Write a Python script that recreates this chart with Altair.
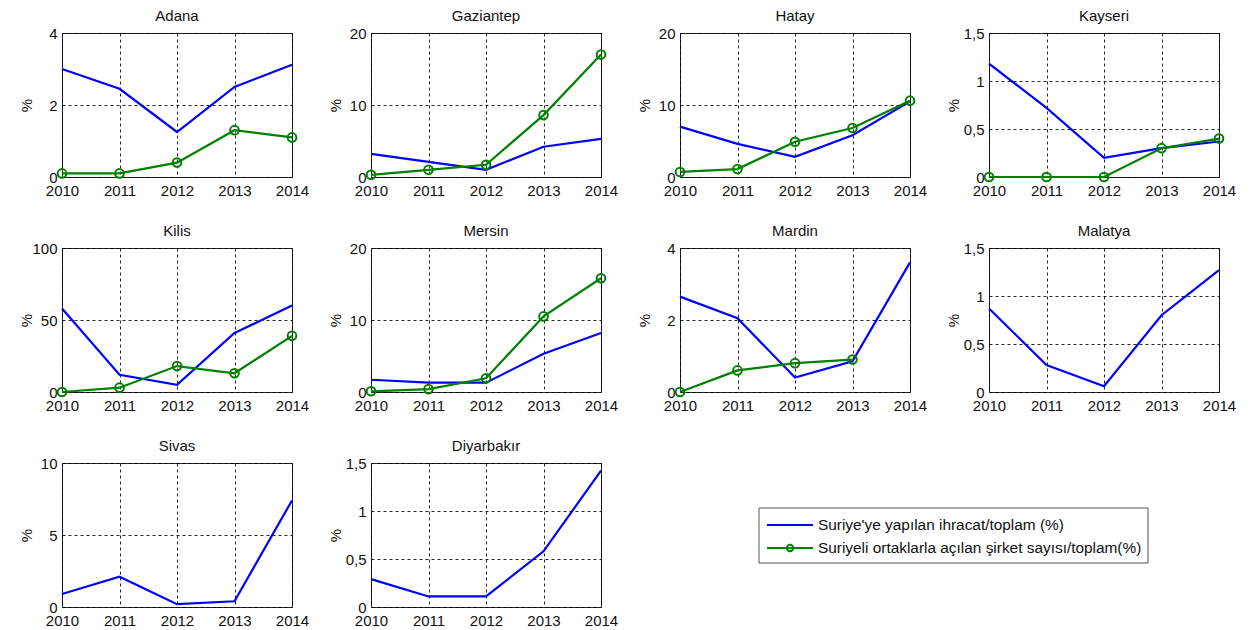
import altair as alt
import pandas as pd

years = [2010, 2011, 2012, 2013, 2014]
S1 = "Suriye'ye yapılan ihracat/toplam (%)"
S2 = "Suriyeli ortaklarla açılan şirket sayısı/toplam(%)"

cities = ["Adana", "Gaziantep", "Hatay", "Kayseri", "Kilis", "Mersin",
          "Mardin", "Malatya", "Sivas", "Diyarbakır"]

adana_export = [3.0, 2.45, 1.25, 2.5, 3.12]
adana_firms = [0.1, 0.1, 0.4, 1.3, 1.1]
gaziantep_export = [3.2, 2.1, 1.0, 4.2, 5.3]
gaziantep_firms = [0.3, 1.0, 1.7, 8.6, 17.0]
hatay_export = [7.0, 4.6, 2.8, 5.8, 10.5]
hatay_firms = [0.7, 1.1, 4.9, 6.8, 10.6]
kayseri_export = [1.18, 0.72, 0.2, 0.3, 0.37]
kayseri_firms = [0.0, 0.0, 0.0, 0.3, 0.4]
kilis_export = [58, 12, 5, 41, 60]
kilis_firms = [0, 3, 18, 13, 39]
mersin_export = [1.7, 1.3, 1.3, 5.3, 8.2]
mersin_firms = [0.1, 0.4, 1.9, 10.5, 15.8]
mardin_export = [2.65, 2.05, 0.4, 0.85, 3.6]
mardin_firms = [0.0, 0.6, 0.8, 0.9, None]
malatya_export = [0.87, 0.28, 0.06, 0.8, 1.27]
sivas_export = [0.9, 2.1, 0.2, 0.4, 7.4]
diyarbakir_export = [0.29, 0.11, 0.11, 0.58, 1.42]

y_max = [4, 20, 20, 1.5, 100, 20, 4, 1.5, 10, 1.5]
y_ticks = [[0, 2, 4], [0, 10, 20], [0, 10, 20], [0, 0.5, 1, 1.5], [0, 50, 100],
           [0, 10, 20], [0, 2, 4], [0, 0.5, 1, 1.5], [0, 5, 10], [0, 0.5, 1, 1.5]]

exports = [adana_export, gaziantep_export, hatay_export, kayseri_export, kilis_export,
           mersin_export, mardin_export, malatya_export, sivas_export, diyarbakir_export]
firms = [adana_firms, gaziantep_firms, hatay_firms, kayseri_firms, kilis_firms,
         mersin_firms, mardin_firms, None, None, None]

FONT = "Liberation Sans, Arial"
BLUE = "#0000ff"
GREEN = "#008000"
INK = "#111111"

color_scale = alt.Scale(domain=[S1, S2], range=[BLUE, GREEN])


def panel(i):
    rows = []
    for yr, v in zip(years, exports[i]):
        rows.append({"year": yr, "value": v, "series": S1})
    if firms[i] is not None:
        for yr, v in zip(years, firms[i]):
            if v is not None:
                rows.append({"year": yr, "value": v, "series": S2})
    df = pd.DataFrame(rows)
    base = alt.Chart(df).encode(
        x=alt.X("year:Q", scale=alt.Scale(domain=[2010, 2014], nice=False, zero=False),
                axis=alt.Axis(values=years, labelExpr="toString(datum.value)", title=None,
                              grid=True, ticks=False, domain=False, labelPadding=6,
                              labelFontSize=15, labelFont=FONT, labelColor=INK,
                              labelFlush=False, labelOverlap=False)),
        y=alt.Y("value:Q", scale=alt.Scale(domain=[0, y_max[i]], nice=False),
                axis=alt.Axis(values=y_ticks[i], labelExpr="replace(toString(datum.value), '.', ',')",
                              title="%", titleFont=FONT, titleFontSize=15, titleFontWeight="normal",
                              titleColor=INK, titlePadding=6,
                              grid=True, ticks=False, domain=False, labelPadding=5,
                              labelFontSize=15, labelFont=FONT, labelColor=INK,
                              labelFlush=False, labelOverlap=False,
                              minExtent=22, maxExtent=22)),
    )
    line = base.mark_line(strokeWidth=2.2).encode(
        color=alt.Color("series:N", scale=color_scale, legend=None))
    layers = [line]
    if firms[i] is not None:
        pts = base.transform_filter(alt.datum.series == S2).mark_point(
            filled=False, size=75, strokeWidth=2, color=GREEN, opacity=1)
        layers.append(pts)
    return alt.layer(*layers).properties(
        width=230, height=144,
        title=alt.TitleParams(cities[i], font=FONT, fontSize=15, fontWeight="normal",
                              color=INK, offset=2, frame="group", anchor="middle"))


# legend panel (built from the series names)
leg_series = [S1, S2]
leg_rows = [0, 1]
leg_df = pd.DataFrame({"series": leg_series, "row": leg_rows})
box_df = pd.DataFrame({"k": [0]})
ly = alt.Y("row:Q", scale=alt.Scale(domain=[0, 1], range=[62, 85]), axis=None)
leg_box = alt.Chart(box_df).mark_rect(fill="white", stroke="#555555", strokeWidth=1).encode(
    x=alt.value(79), x2=alt.value(468), y=alt.value(45), y2=alt.value(100))
leg_line = alt.Chart(leg_df).mark_rule(strokeWidth=2).encode(
    x=alt.value(87), x2=alt.value(133), y=ly,
    color=alt.Color("series:N", scale=color_scale, legend=None))
leg_pt = alt.Chart(leg_df).transform_filter(alt.datum.series == S2).mark_point(
    filled=False, size=40, strokeWidth=2, color=GREEN, opacity=1).encode(
    x=alt.value(110), y=ly)
leg_text = alt.Chart(leg_df).mark_text(align="left", baseline="middle", font=FONT,
                                       fontSize=15.4, color=INK).encode(
    x=alt.value(138), y=ly, text="series:N")
legend_panel = alt.layer(leg_box, leg_line, leg_pt, leg_text).properties(
    width=230, height=144, view=alt.ViewBackground(stroke="transparent"))

panels = [panel(i) for i in range(len(cities))] + [legend_panel]

chart = alt.concat(*panels, columns=4, spacing={"row": 71, "column": 79}, bounds="flush").properties(
    padding={"left": 10, "top": 0, "right": 5, "bottom": 2},
    background="white",
).configure_view(stroke="#262626", strokeWidth=1).configure_axis(
    gridColor="#000000", gridDash=[3, 3], gridOpacity=0.85, gridWidth=1
)

chart.save("out.html", embed_options={"renderer": "svg", "actions": False})
